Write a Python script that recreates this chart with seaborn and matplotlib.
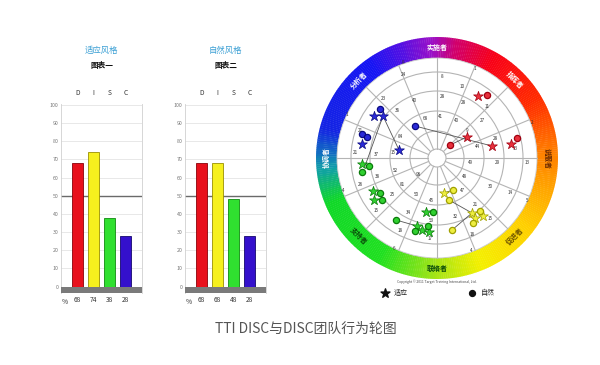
import numpy as np
import pandas as pd
import matplotlib
matplotlib.use("Agg")
import matplotlib.pyplot as plt
import seaborn as sns
from matplotlib.patches import Wedge, Circle
from matplotlib.colors import LinearSegmentedColormap

# --- DISC bar chart data ---
disc_labels = ['D', 'I', 'S', 'C']
adapted_values = [68, 74, 38, 28]   # 图表一 适应风格
natural_values = [68, 68, 48, 28]   # 图表二 自然风格
bar_colors = ['#e8101c', '#f6f01e', '#30e030', '#3410cc']
bar_edges = ['#8a0008', '#9a9000', '#108a10', '#14066e']

# --- wheel data ---
wheel_names = ['说服者', '指挥者', '实施者', '分析者', '协调者', '支持者', '联络者', '促进者']
wheel_angles = [0, 45, 90, 135, 180, 225, 270, 315]
wheel_text_colors = ['#6a2a00', 'white', 'white', 'white', 'white', '#0a4a0a', '#0a4a0a', '#6a5000']
grid_radii = [9, 27, 47, 67, 86]

# adapted style (stars)
star_x = [-63, -54, -75, -38, 41, 30, 55, 74, -75, -64, -63, -20, -15, -8, -11, 7, 35, 38, 46]
star_y = [42, 42, 14, 8, 62, 21, 12, 14, -6, -33, -42, -68, -72, -74, -54, -35, -55, -60, -58]
star_group = ['C'] * 4 + ['D'] * 4 + ['S'] * 7 + ['I'] * 4

# natural style (dots)
dot_x = [-57, -75, -70, -22, 50, 13, 80, -68, -75, -57, -55, -41, -22, -9, -4, 16, 12, 43, 36, 15]
dot_y = [49, 24, 21, 32, 63, 13, 20, -8, -14, -35, -42, -62, -73, -68, -54, -32, -42, -53, -65, -72]
dot_group = ['C'] * 4 + ['D'] * 3 + ['S'] * 8 + ['I'] * 5

link_x0 = [-54, -54, -22, 13, -41, 16, 12, 15]
link_y0 = [42, 42, 32, 13, -62, -32, -42, -72]
link_x1 = [-72, -38, 55, 30, -20, 7, 35, 35]
link_y1 = [-8, 8, 12, 21, -68, -35, -55, -55]

num_x = [-34, 5, 38, -34, -54, -22, 5, 26, 50, 25, -40, -12, 3, 20, 45, -90, -77, 30, 58, 95,
         -37, -82, -61, -44, 40, 78, 33, 60, 90, -42, -19, -60, -77, 28, 53, 73, 90, -94, -35,
         -45, -21, -6, 25, -61, -29, -6, 38, 18, 53, -37, -7, 35, -43, 34]
num_y = [95, 81, 90, 83, 60, 58, 61, 55, 51, 72, 48, 40, 42, 37, 38, 44, 28, 27, 20, 35,
         21, 5, 4, 5, 12, 10, -5, -5, -5, -12, -16, -18, -26, -18, -28, -35, -42, -33, -27,
         -37, -37, -42, -33, -53, -54, -62, -47, -58, -61, -72, -80, -77, -90, -92]
num_text = ['8', '8', '1', '24', '23', '40', '28', '28', '11', '10', '36', '68', '41', '40', '27', '1',
            '21', '9', '28', '2', '84', '21', '37', '15', '44', '13', '49', '29', '13', '52', '98',
            '38', '26', '48', '30', '14', '5', '4', '81', '25', '50', '45', '47', '15', '34', '53',
            '21', '32', '15', '18', '17', '18', '6', '4']

group_colors = {'D': '#e8303c', 'I': '#eeee40', 'S': '#30d030', 'C': '#2a2ad8'}
group_edges = {'D': '#a00010', 'I': '#a0a000', 'S': '#0a7a0a', 'C': '#0a0a80'}

sns.set_style('white')
plt.rcParams['font.family'] = ['Noto Sans CJK SC', 'DejaVu Sans']

fig = plt.figure(figsize=(6, 3.65), dpi=100)


def draw_bars(ax, values, title, subtitle):
    df = pd.DataFrame({'factor': disc_labels, 'score': values})
    for y in range(10, 101, 10):
        ax.axhline(y, color='#e4e4e4', lw=0.6, zorder=0)
    sns.barplot(data=df, x='factor', y='score', hue='factor', palette=bar_colors,
                width=0.68, saturation=1, legend=False, ax=ax, linewidth=0.6, zorder=2)
    for cont, ec in zip(ax.containers, bar_edges):
        for p in cont:
            p.set_edgecolor(ec)
    ax.axhspan(-3.5, 0, color='#7a7a7a', zorder=3, lw=0)
    ax.axhline(50, color='#6a6a6a', lw=1.0, zorder=1)
    ax.set_xlim(-1, 4)
    ax.set_ylim(-3.5, 100.5)
    ax.set_yticks(range(0, 101, 10))
    ax.set_yticklabels([str(v) for v in range(0, 101, 10)], fontsize=3.8, color='#777')
    ax.set_xticks(range(4))
    ax.set_xticklabels([str(v) for v in values], fontsize=4.8, color='#333')
    ax.tick_params(length=0, pad=2)
    ax.set_xlabel('')
    ax.set_ylabel('')
    for s in ['top', 'bottom']:
        ax.spines[s].set_visible(False)
    for s in ['left', 'right']:
        ax.spines[s].set_color('#d0d0d0')
        ax.spines[s].set_linewidth(0.6)
    ax.text(-0.75, -8.5, '%', fontsize=4.8, color='#333', ha='center', va='center', clip_on=False)
    for i, lab in enumerate(disc_labels):
        ax.text(i, 106.5, lab, fontsize=4.8, color='#333', ha='center', va='center', clip_on=False)
    ax.text(1.5, 130, title, fontsize=6, color='#3a9fd4', ha='center', va='center', clip_on=False)
    ax.text(1.5, 121.5, subtitle, fontsize=5.5, color='#111', ha='center', va='center',
            fontweight='bold', clip_on=False)


ax1 = fig.add_axes([61 / 600, 72 / 365, 81 / 600, 189 / 365])
draw_bars(ax1, adapted_values, '适应风格', '图表一')
ax2 = fig.add_axes([185 / 600, 72 / 365, 81 / 600, 189 / 365])
draw_bars(ax2, natural_values, '自然风格', '图表二')

# --- wheel ---
axw = fig.add_axes([307 / 600, 67 / 365, 260 / 600, 265 / 365])
axw.set_xlim(-130, 130)
axw.set_ylim(-140, 125)
axw.set_aspect('equal')
axw.axis('off')

ring_cmap = LinearSegmentedColormap.from_list('ring', [
    (0 / 360, '#ff8400'), (30 / 360, '#ff2a00'), (60 / 360, '#f80018'),
    (80 / 360, '#d0006e'), (92 / 360, '#9a10c8'), (108 / 360, '#5010e4'),
    (125 / 360, '#1414f4'), (165 / 360, '#1424e4'), (185 / 360, '#10a0a8'),
    (202 / 360, '#10d828'), (240 / 360, '#20e020'), (268 / 360, '#a0e418'),
    (292 / 360, '#f4f000'), (322 / 360, '#ffd000'), (345 / 360, '#ffa400'),
    (360 / 360, '#ff8400')])
for a in range(360):
    axw.add_patch(Wedge((0, 0), 121, a, a + 1.2, width=21, color=ring_cmap(a / 360), lw=0))
axw.add_patch(Circle((0, 0), 100, facecolor='white', edgecolor='#c8c8c8', lw=0.6))
for r in grid_radii:
    axw.add_patch(Circle((0, 0), r, fill=False, edgecolor='#b4b4b4', lw=0.8))
for a in np.arange(0, 360, 22.5):
    t = np.deg2rad(a)
    axw.plot([9 * np.cos(t), 100 * np.cos(t)], [9 * np.sin(t), 100 * np.sin(t)],
             color='#b4b4b4', lw=0.8)

for name, ang, tc in zip(wheel_names, wheel_angles, wheel_text_colors):
    t = np.deg2rad(ang)
    rot = ang - 90 if np.sin(t) > -0.01 else ang + 90
    axw.text(110.5 * np.cos(t), 110.5 * np.sin(t), name, rotation=rot, rotation_mode='anchor',
             ha='center', va='center', fontsize=5, fontweight='bold', color=tc)

for tx, ty, tt in zip(num_x, num_y, num_text):
    axw.text(tx, ty, tt, fontsize=3.3, color='#333', ha='center', va='center')

for x0, y0, x1, y1 in zip(link_x0, link_y0, link_x1, link_y1):
    axw.plot([x0, x1], [y0, y1], color='#555', lw=0.6, zorder=3)

stars = pd.DataFrame({'x': star_x, 'y': star_y, 'g': star_group})
dots = pd.DataFrame({'x': dot_x, 'y': dot_y, 'g': dot_group})
for g in group_colors:
    sns.scatterplot(data=stars[stars.g == g], x='x', y='y', marker='*', s=55,
                    color=group_colors[g], edgecolor=group_edges[g], linewidth=0.5,
                    ax=axw, zorder=4, legend=False)
    sns.scatterplot(data=dots[dots.g == g], x='x', y='y', marker='o', s=20,
                    color=group_colors[g], edgecolor=group_edges[g], linewidth=0.9,
                    ax=axw, zorder=4, legend=False)
axw.set_xlabel('')
axw.set_ylabel('')

axw.text(0, -124, 'Copyright © 2011 Target Training International, Ltd.', fontsize=2.4,
         color='#444', ha='center', va='center')
axw.scatter([-52], [-135], marker='*', s=45, color='#111')
axw.text(-43, -135, '适应', fontsize=5, color='#222', va='center')
axw.scatter([35], [-135], marker='o', s=18, color='#111')
axw.text(44, -135, '自然', fontsize=5, color='#222', va='center')

fig.text(0.51, 0.099, 'TTI DISC与DISC团队行为轮图', fontsize=10, color='#555',
         ha='center', va='center')

fig.savefig('out.png', dpi=100)
